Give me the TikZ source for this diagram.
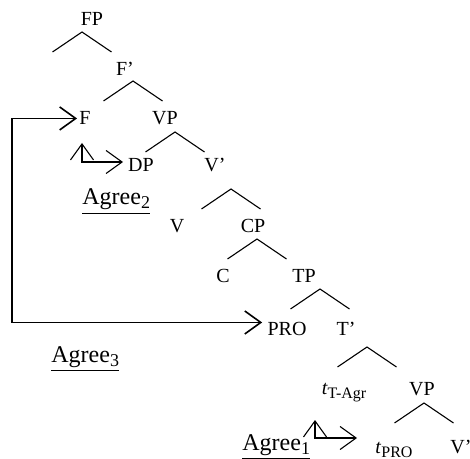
\documentclass[tikz,border=0pt]{standalone}
\usepackage{fontspec}
\setmainfont{Liberation Serif}
\usetikzlibrary{arrows.meta}

\newcommand{\lowsub}[2][8]{\raisebox{-2pt}{\fontsize{#1}{#1}\selectfont #2}}

\begin{document}
\begin{tikzpicture}[x=0.5pt,y=-0.5pt,
    cat/.style={anchor=base, inner sep=1pt, font=\fontsize{10}{12}\selectfont},
    agr/.style={anchor=base west, inner sep=0pt, font=\fontsize{12}{14}\selectfont},
    link/.style={line width=0.55pt, {Straight Barb[length=8pt,width=11.5pt]}-{Straight Barb[length=8pt,width=11.5pt]}},
    branch/.pic={\draw[line width=0.55pt] (-29.5,20) -- (0,0) -- (29.5,20);}]
  \useasboundingbox (0,0) rectangle (470,459);
  % categories
  \node[cat] (FP)      at (92,26)  {FP};
  \node[cat] (Fbar)    at (125,76) {F'};
  \node[cat] (F)       at (85,125) {F};
  \node[cat] (VP)      at (165,125) {VP};
  \node[cat] (DP)      at (141,172) {DP};
  \node[cat] (Vbar)    at (215,172) {V'};
  \node[cat] (V)       at (177,233) {V};
  \node[cat] (CP)      at (253,233) {CP};
  \node[cat] (C)       at (223,283) {C};
  \node[cat] (TP)      at (304,283) {TP};
  \node[cat] (PRO)     at (287,335) {PRO};
  \node[cat] (Tbar)    at (346,335) {T'};
  \node[cat] (tTAgr)   at (344,394) {\textit{t}\lowsub{T-Agr}};
  \node[cat] (VPlow)   at (422,395) {VP};
  \node[cat] (tPRO)    at (394,453) {\textit{t}\lowsub{PRO}};
  \node[cat] (Vbarlow) at (461,453) {V'};
  % branches
  \pic at (82,32)   {branch};
  \pic at (133,81)  {branch};
  \pic at (175,132) {branch};
  \pic at (231,189) {branch};
  \pic at (257,239) {branch};
  \pic at (320,289) {branch};
  \pic at (367,347) {branch};
  \pic at (424,403) {branch};
  % agree labels
  \node[agr] (AgreeTwo)   at (82,205)  {\underline{Agree\lowsub[9]{2}}};
  \node[agr] (AgreeThree) at (51,362)  {\underline{Agree\lowsub[9]{3}}};
  \node[agr] (AgreeOne)   at (242,450) {\underline{Agree\lowsub[9]{1}}};
  % agree links
  \coordinate (rail) at (12,0);
  \coordinate (PROin) at ([yshift=3pt]PRO.west);
  \draw[link, line width=0.8pt, shorten >=1.5pt] (F.west) -- (F.west -| rail) -- (PROin -| rail) -- (PROin);
  \coordinate (upTwo) at (82,143);
  \coordinate (toDP) at (123,162);
  \draw[link] (upTwo) |- (toDP);
  \coordinate (upOne) at (315,420);
  \coordinate (toPRO) at (357,438);
  \draw[link] (upOne) |- (toPRO);
\end{tikzpicture}
\end{document}
